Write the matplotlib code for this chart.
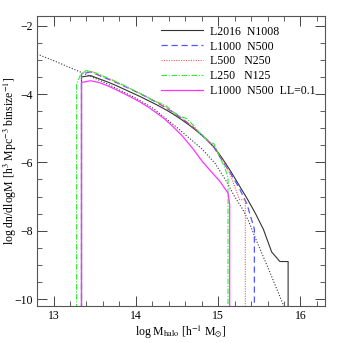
import numpy as np
import matplotlib
matplotlib.use("Agg")
import matplotlib.pyplot as plt
from matplotlib.ticker import MultipleLocator

plt.rcParams['font.family'] = ['Liberation Serif', 'DejaVu Serif']
plt.rcParams['mathtext.fontset'] = 'stix'

BOT = -10.6  # vertical drops run off the bottom of the frame

# analytic mass function (dotted)
x_theory = [12.80, 13.00, 13.34, 13.60, 14.00, 14.20, 14.50, 14.80, 14.96, 15.10, 15.20, 15.30, 15.37, 15.46, 15.60, 15.78, 15.82]
y_theory = [-2.83, -3.02, -3.37, -3.64, -4.12, -4.40, -4.98, -5.60, -6.02, -6.55, -7.00, -7.38, -7.72, -8.26, -9.05, -10.10, -10.35]

# L2016 N1008
x_l2016 = [13.34, 13.34, 13.45, 13.55, 13.65, 13.75, 13.85, 13.95, 14.05, 14.15, 14.25, 14.35, 14.45, 14.55, 14.65, 14.75, 14.85, 14.95, 15.05, 15.15, 15.25, 15.35, 15.45, 15.55, 15.65, 15.75, 15.85, 15.85]
y_l2016 = [BOT, -3.50, -3.46, -3.55, -3.64, -3.74, -3.85, -3.96, -4.07, -4.19, -4.31, -4.44, -4.58, -4.74, -4.91, -5.10, -5.31, -5.55, -5.88, -6.25, -6.65, -7.05, -7.48, -7.96, -8.62, -8.90, -8.90, BOT]

# L1000 N500
x_l1000 = [13.34, 13.34, 13.45, 13.55, 13.65, 13.75, 13.85, 13.95, 14.05, 14.15, 14.25, 14.35, 14.45, 14.55, 14.65, 14.75, 14.85, 14.95, 15.05, 15.15, 15.25, 15.35, 15.44, 15.44]
y_l1000 = [BOT, -3.42, -3.35, -3.45, -3.55, -3.65, -3.76, -3.87, -3.99, -4.11, -4.24, -4.38, -4.53, -4.70, -4.88, -5.08, -5.30, -5.56, -5.95, -6.32, -6.72, -7.22, -7.95, BOT]

# L500 N250
x_l500 = [13.34, 13.34, 13.45, 13.55, 13.65, 13.75, 13.85, 13.95, 14.05, 14.15, 14.25, 14.35, 14.45, 14.55, 14.65, 14.75, 14.85, 14.95, 15.05, 15.14, 15.26, 15.33, 15.33]
y_l500 = [BOT, -3.40, -3.33, -3.44, -3.54, -3.64, -3.75, -3.86, -3.98, -4.10, -4.23, -4.36, -4.52, -4.69, -4.87, -5.08, -5.31, -5.58, -5.92, -6.31, -7.09, -7.09, BOT]

# L250 N125
x_l250 = [13.28, 13.28, 13.33, 13.40, 13.50, 13.60, 13.70, 13.80, 13.90, 14.00, 14.10, 14.20, 14.30, 14.36, 14.45, 14.55, 14.62, 14.70, 14.80, 14.90, 14.95, 15.02, 15.08, 15.12, 15.12]
y_l250 = [BOT, -3.72, -3.42, -3.31, -3.37, -3.47, -3.57, -3.68, -3.80, -3.92, -4.04, -4.18, -4.27, -4.33, -4.52, -4.66, -4.72, -4.92, -5.20, -5.40, -5.46, -5.85, -6.15, -6.45, BOT]

# L1000 N500 LL=0.1
x_ll01 = [13.34, 13.34, 13.45, 13.55, 13.65, 13.75, 13.85, 13.95, 14.05, 14.15, 14.25, 14.35, 14.45, 14.57, 14.70, 14.81, 14.89, 15.02, 15.12, 15.14, 15.14]
y_ll01 = [BOT, -3.66, -3.61, -3.66, -3.75, -3.86, -3.98, -4.10, -4.23, -4.38, -4.55, -4.73, -4.95, -5.24, -5.62, -5.98, -6.20, -6.55, -6.90, -7.23, BOT]

fig = plt.figure(figsize=(3.43, 3.43), dpi=100)
ax = fig.add_axes([0.108, 0.108, 0.840, 0.845])

ax.plot(x_theory, y_theory, color='#333333', ls=(0, (1, 1.6)), lw=0.8)
ax.plot(x_l2016, y_l2016, color='#333333', ls='-', lw=0.8, label='L2016  N1008')
ax.plot(x_l1000, y_l1000, color='#5555ff', ls=(0, (5, 3)), lw=0.9, label='L1000  N500')
ax.plot(x_l500, y_l500, color='#ff5555', ls=(0, (1, 1.2)), lw=0.8, label='L500   N250')
ax.plot(x_l250, y_l250, color='#33ee33', ls=(0, (5, 1.5, 1, 1.5)), lw=0.8, label='L250   N125')
ax.plot(x_ll01, y_ll01, color='#ff33ff', ls='-', lw=0.9, label='L1000  N500  LL=0.1')

ax.set_xlim(12.8, 16.3)
ax.set_ylim(-10.2, -1.72)
ax.xaxis.set_major_locator(MultipleLocator(1))
ax.xaxis.set_minor_locator(MultipleLocator(0.2))
ax.yaxis.set_major_locator(MultipleLocator(2))
ax.yaxis.set_minor_locator(MultipleLocator(0.5))
ax.tick_params(which='both', direction='in', top=True, right=True, colors='#444444',
               labelcolor='black', labelsize=8.5, pad=3)
ax.tick_params(which='major', length=7, width=0.7)
ax.tick_params(which='minor', length=3.5, width=0.6)
for s in ax.spines.values():
    s.set_color('#555555')
    s.set_linewidth(0.8)

ax.set_xlabel(r'log M$_{\rm halo}$ [h$^{-1}$ M$_{\odot}$]', fontsize=8.5, labelpad=1)
ax.set_ylabel(r'log dn/dlogM [h$^3$ Mpc$^{-3}$ binsize$^{-1}$]', fontsize=8.5, labelpad=0)
ax.yaxis.set_label_coords(-0.062, 0.5)

ax.legend(loc='upper right', frameon=False, fontsize=8.5, handlelength=3.6,
          handletextpad=0.6, labelspacing=0.25, borderaxespad=0.4)

fig.savefig('out.png', dpi=100)
